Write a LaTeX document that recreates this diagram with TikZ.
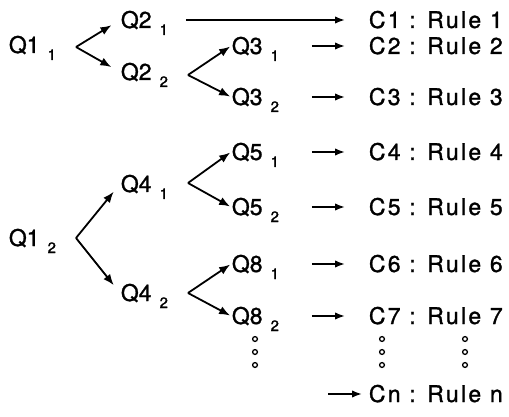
\documentclass[tikz,border=0pt]{standalone}
\usepackage{fontspec}
\setmainfont{TeX Gyre Heros}[FakeBold=1.2]
\newfontfamily\rulefont{TeX Gyre Heros}[LetterSpace=10, FakeBold=1.2]
\usetikzlibrary{arrows.meta}
\newcommand{\qlab}[2]{#1\hspace{8pt}\smash{\raisebox{-7pt}{\fontsize{15}{15}\selectfont #2}}}

\begin{document}
\begin{tikzpicture}[x=1pt, y=-1pt, line width=1.8pt,
		every node/.style={inner sep=0pt, text height=16pt, text depth=0pt,
			font=\fontsize{23}{27}\selectfont},
		qlabel/.style={anchor=west},
		rulelabel/.style={anchor=west, font=\fontsize{23}{27}\selectfont\rulefont},
		branch/.style={-{Latex[length=11pt,width=8.5pt]}},
		lead/.style={-{Latex[length=10pt,width=7.5pt]}, shorten >=23pt}]
		\useasboundingbox (0,0) rectangle (509,417);

		% Questions
		\node[qlabel] (q11) at (8,45) {\qlab{Q1}{1}};
		\node[qlabel] (q12) at (8,238) {\qlab{Q1}{2}};
		\node[qlabel] (q21) at (120,20) {\qlab{Q2}{1}};
		\node[qlabel] (q22) at (120,72) {\qlab{Q2}{2}};
		\node[qlabel] (q41) at (120,184) {\qlab{Q4}{1}};
		\node[qlabel] (q42) at (120,293) {\qlab{Q4}{2}};
		\node[qlabel] (q31) at (231,46) {\qlab{Q3}{1}};
		\node[qlabel] (q32) at (231,97) {\qlab{Q3}{2}};
		\node[qlabel] (q51) at (231,152) {\qlab{Q5}{1}};
		\node[qlabel] (q52) at (231,207) {\qlab{Q5}{2}};
		\node[qlabel] (q81) at (231,264) {\qlab{Q8}{1}};
		\node[qlabel] (q82) at (231,316) {\qlab{Q8}{2}};

		% Conclusions
		\node[rulelabel] (c1) at (368,20) {C1 : Rule 1};
		\node[rulelabel] (c2) at (368,46) {C2 : Rule 2};
		\node[rulelabel] (c3) at (368,97) {C3 : Rule 3};
		\node[rulelabel] (c4) at (368,152) {C4 : Rule 4};
		\node[rulelabel] (c5) at (368,207) {C5 : Rule 5};
		\node[rulelabel] (c6) at (368,264) {C6 : Rule 6};
		\node[rulelabel] (c7) at (368,316) {C7 : Rule 7};
		\node[rulelabel] (cn) at (368,394) {Cn : Rule n};

		% Branch points
		\coordinate (v1) at (76,47);
		\coordinate (v2) at (188,75);
		\coordinate (v3) at (76,238);
		\coordinate (v4) at (188,183);
		\coordinate (v5) at (188,293);
		\coordinate (vn) at (328,394);

		\draw[branch, shorten >=10pt] (v1) -- (q21.west);
		\draw[branch, shorten >=10pt] (v1) -- (q22.west);
		\draw[branch, shorten >=10pt] (v3) -- (q41.west);
		\draw[branch, shorten >=10pt] (v3) -- (q42.west);
		\draw[branch, shorten >=1pt] (v2) -- (q31.west);
		\draw[branch, shorten >=1pt] (v2) -- (q32.west);
		\draw[branch, shorten >=1pt] (v4) -- (q51.west);
		\draw[branch, shorten >=1pt] (v4) -- (q52.west);
		\draw[branch, shorten >=1pt] (v5) -- (q81.west);
		\draw[branch, shorten >=1pt] (v5) -- (q82.west);

		% Leads to the rules
		\draw[lead, shorten <=17pt] (q21.east) -- (c1.west);
		\foreach \q/\c in {q31/c2, q32/c3, q51/c4, q52/c5, q81/c6, q82/c7}
			\draw[lead, shorten <=32pt] (\q.east) -- (\c.west);
		\draw[lead, shorten >=6pt] (vn) -- (cn.west);

		% Ellipsis dots
		\foreach \x in {255,382,465}
			\foreach \y in {339,352,365}
				\draw[line width=1.3pt] (\x,\y) circle[radius=2.4pt];
	\end{tikzpicture}
\end{document}
